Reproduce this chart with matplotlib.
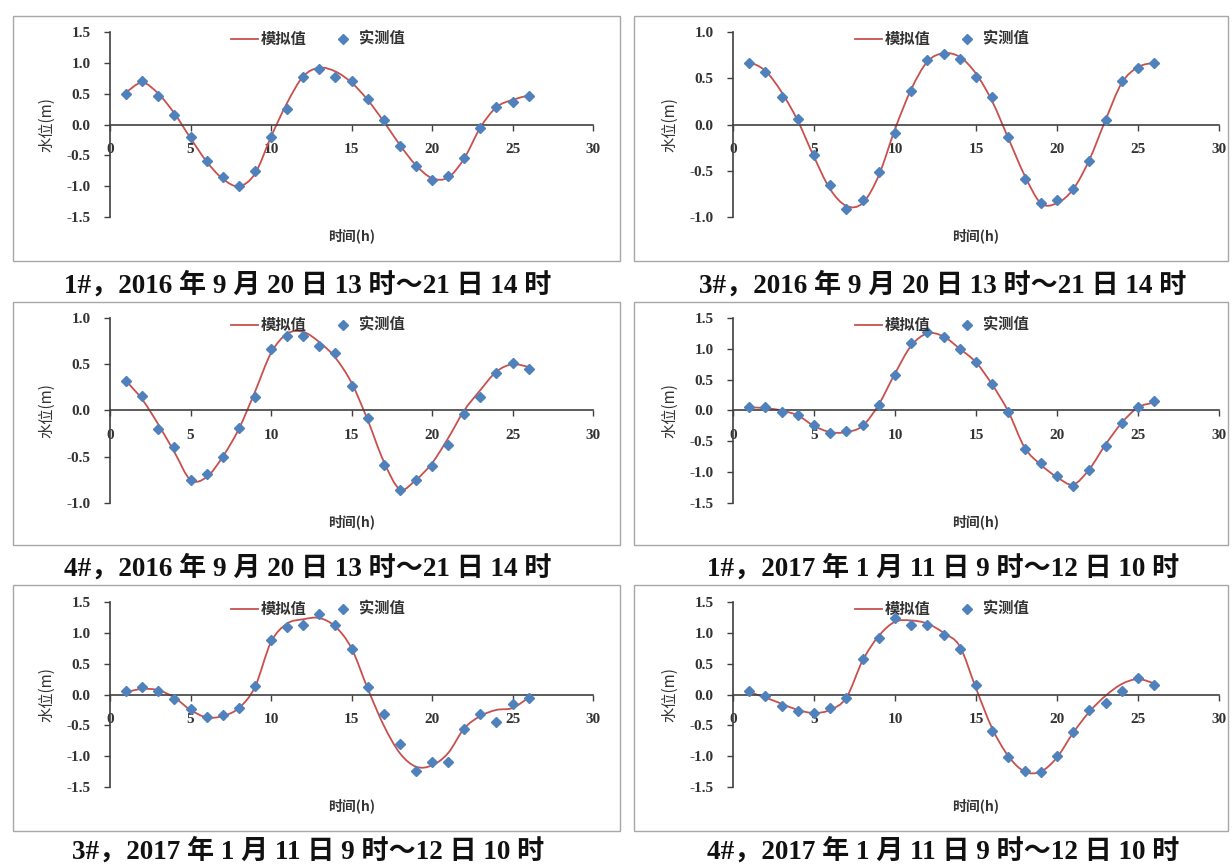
import matplotlib
matplotlib.use('Agg')
import matplotlib.pyplot as plt
from matplotlib.patches import Rectangle, PathPatch
from matplotlib.path import Path
from matplotlib.lines import Line2D

# ---------------- data ----------------
hours = list(range(1, 27))

p1_sim = [0.52, 0.68, 0.50, 0.18, -0.22, -0.60, -0.88, -1.00, -0.80, -0.20, 0.35, 0.78, 0.92,
          0.86, 0.68, 0.40, 0.05, -0.33, -0.66, -0.87, -0.86, -0.55, -0.05, 0.28, 0.40, 0.47]
p1_obs = [0.50, 0.71, 0.46, 0.16, -0.20, -0.60, -0.85, -1.00, -0.75, -0.20, 0.25, 0.77, 0.90,
          0.77, 0.71, 0.41, 0.07, -0.35, -0.68, -0.90, -0.83, -0.54, -0.05, 0.29, 0.36, 0.46]

p2_sim = [0.68, 0.58, 0.35, 0.04, -0.35, -0.70, -0.88, -0.85, -0.55, -0.05, 0.38, 0.68, 0.77,
          0.73, 0.55, 0.25, -0.15, -0.55, -0.85, -0.85, -0.70, -0.38, 0.05, 0.45, 0.62, 0.67]
p2_obs = [0.66, 0.57, 0.30, 0.06, -0.33, -0.65, -0.91, -0.82, -0.51, -0.09, 0.36, 0.70, 0.76,
          0.71, 0.51, 0.30, -0.14, -0.59, -0.85, -0.82, -0.70, -0.40, 0.05, 0.47, 0.61, 0.66]

p3_sim = [0.32, 0.12, -0.15, -0.45, -0.75, -0.72, -0.50, -0.20, 0.20, 0.62, 0.83, 0.85, 0.74,
          0.57, 0.30, -0.10, -0.55, -0.85, -0.75, -0.57, -0.30, 0.00, 0.22, 0.42, 0.50, 0.47]
p3_obs = [0.32, 0.16, -0.20, -0.39, -0.75, -0.69, -0.50, -0.19, 0.15, 0.66, 0.81, 0.81, 0.70,
          0.62, 0.26, -0.08, -0.59, -0.86, -0.75, -0.60, -0.37, -0.04, 0.15, 0.41, 0.51, 0.45]

p4_sim = [0.05, 0.04, 0.00, -0.08, -0.25, -0.35, -0.35, -0.25, 0.10, 0.60, 1.05, 1.25, 1.20,
          1.00, 0.78, 0.42, -0.02, -0.60, -0.88, -1.08, -1.20, -0.95, -0.55, -0.20, 0.05, 0.13]
p4_obs = [0.05, 0.05, -0.02, -0.07, -0.23, -0.36, -0.34, -0.23, 0.09, 0.58, 1.09, 1.27, 1.19,
          0.99, 0.79, 0.43, -0.02, -0.63, -0.85, -1.06, -1.23, -0.97, -0.58, -0.21, 0.05, 0.16]

p5_sim = [0.04, 0.09, 0.07, -0.05, -0.25, -0.37, -0.35, -0.22, 0.12, 0.85, 1.15, 1.22, 1.24,
          1.10, 0.75, 0.10, -0.50, -0.95, -1.17, -1.15, -0.95, -0.55, -0.35, -0.25, -0.22, -0.05]
p5_obs = [0.05, 0.12, 0.05, -0.07, -0.23, -0.37, -0.33, -0.22, 0.13, 0.88, 1.10, 1.12, 1.30,
          1.12, 0.74, 0.12, -0.31, -0.80, -1.24, -1.10, -1.10, -0.56, -0.32, -0.45, -0.15, -0.05]

p6_sim = [0.04, -0.05, -0.15, -0.25, -0.30, -0.25, -0.05, 0.55, 0.95, 1.18, 1.20, 1.15, 1.00,
          0.78, 0.10, -0.55, -1.00, -1.25, -1.25, -1.02, -0.62, -0.28, -0.02, 0.17, 0.25, 0.18]
p6_obs = [0.06, -0.03, -0.18, -0.26, -0.30, -0.22, -0.05, 0.57, 0.92, 1.24, 1.12, 1.12, 0.96,
          0.74, 0.15, -0.59, -1.02, -1.24, -1.26, -1.00, -0.60, -0.25, -0.14, 0.05, 0.27, 0.16]

y_limits = [1.5, 1.0, 1.0, 1.5, 1.5, 1.5]
x_ticks = [0, 5, 10, 15, 20, 25, 30]

captions = [
    "1#，2016 年 9 月 20 日 13 时～21 日 14 时",
    "3#，2016 年 9 月 20 日 13 时～21 日 14 时",
    "4#，2016 年 9 月 20 日 13 时～21 日 14 时",
    "1#，2017 年 1 月 11 日 9 时～12 日 10 时",
    "3#，2017 年 1 月 11 日 9 时～12 日 10 时",
    "4#，2017 年 1 月 11 日 9 时～12 日 10 时",
]
legend_labels = ["模拟值", "实测值"]
x_label = "时间(h)"
y_label = "水位(m)"

sims = [p1_sim, p2_sim, p3_sim, p4_sim, p5_sim, p6_sim]
obss = [p1_obs, p2_obs, p3_obs, p4_obs, p5_obs, p6_obs]


def smooth_path(xs, ys):
    """Excel-style smoothed line drawn as cubic Bezier segments through the data points."""
    n = len(xs)
    verts = [(xs[0], ys[0])]
    codes = [Path.MOVETO]
    for k in range(n - 1):
        x0, y0 = (xs[k - 1], ys[k - 1]) if k > 0 else (xs[k], ys[k])
        x1, y1 = xs[k], ys[k]
        x2, y2 = xs[k + 1], ys[k + 1]
        x3, y3 = (xs[k + 2], ys[k + 2]) if k + 2 < n else (x2, y2)
        c1 = (x1 + (x2 - x0) / 6.0, y1 + (y2 - y0) / 6.0)
        c2 = (x2 - (x3 - x1) / 6.0, y2 - (y3 - y1) / 6.0)
        verts += [c1, c2, (x2, y2)]
        codes += [Path.CURVE4, Path.CURVE4, Path.CURVE4]
    return Path(verts, codes)


# ---------------- layout (pixels) ----------------
W, H = 1232, 865
fig = plt.figure(figsize=(W / 100, H / 100), dpi=100)
fig.patch.set_facecolor('white')

cols = [(13, 620, 110, 593, 308), (634, 1228, 733, 1219, 943)]
rows = [(16, 261, 32, 217, 285), (302, 545, 318, 503, 568), (585, 831, 602, 787, 851)]

RED = '#C8504D'
BLUE = '#4F81BD'
TXT = '#333333'
num_family = ['Liberation Serif', 'Noto Sans CJK SC']
cjk_font = ['Noto Sans CJK SC', 'DejaVu Sans']

for i in range(6):
    r, c = divmod(i, 2)
    bx0, bx1, ax0, ax1, capx = cols[c]
    by0, by1, ay0, ay1, capy = rows[r]

    fig.patches.append(Rectangle((bx0 / W, 1 - by1 / H), (bx1 - bx0) / W, (by1 - by0) / H,
                                 transform=fig.transFigure, fill=False,
                                 edgecolor='#a8a8a8', linewidth=1.0, zorder=0))

    ax = fig.add_axes([ax0 / W, 1 - ay1 / H, (ax1 - ax0) / W, (ay1 - ay0) / H])
    ax.patch.set_alpha(0)
    lim = y_limits[i]
    ax.add_patch(PathPatch(smooth_path(hours, sims[i]), facecolor='none',
                           edgecolor=RED, lw=1.3, zorder=2))
    ax.plot(hours, obss[i], linestyle='none', marker='D', markersize=4.6,
            color=BLUE, zorder=3)
    ax.set_xlim(0, 30)
    ax.set_ylim(-lim, lim)
    ax.set_xticks(x_ticks)
    yt = []
    v = -lim
    while v <= lim + 1e-9:
        yt.append(round(v, 1))
        v += 0.5
    ax.set_yticks(yt)
    ax.set_yticklabels([f"{t:.1f}" for t in yt])
    ax.set_xticklabels([str(t) for t in x_ticks])

    for s in ['top', 'right']:
        ax.spines[s].set_visible(False)
    ax.spines['bottom'].set_position(('data', 0))
    for s in ['bottom', 'left']:
        ax.spines[s].set_color('#404040')
        ax.spines[s].set_linewidth(1.2)
    ax.tick_params(axis='both', direction='out', length=4, width=1.0, color='#404040',
                   labelcolor=TXT)
    ax.tick_params(axis='x', pad=9)
    ax.tick_params(axis='y', pad=10)
    for lab in ax.get_xticklabels() + ax.get_yticklabels():
        lab.set_family(num_family)
        lab.set_weight('bold')
        lab.set_fontsize(11)

    ax.set_ylabel(y_label, family=cjk_font, fontsize=11, color=TXT, labelpad=8)
    ax.text(0.5, -0.1, x_label, transform=ax.transAxes, ha='center', va='center',
            family=cjk_font, fontsize=10, weight='bold', color=TXT)

    handles = [Line2D([], [], color=RED, lw=1.3),
               Line2D([], [], linestyle='none', marker='D', markersize=4.6, color=BLUE)]
    ax.legend(handles, legend_labels, loc='upper center', bbox_to_anchor=(0.43, 1.08),
              ncol=2, frameon=False, handlelength=1.8, handletextpad=0.15,
              columnspacing=1.5, prop=dict(family=cjk_font, size=11, weight='bold'),
              labelcolor=TXT)

    fig.text(capx / W, 1 - capy / H, captions[i], ha='center', va='center',
             fontsize=19.5, color='#111111', family=num_family, weight='bold')

fig.savefig('out.png', dpi=100, facecolor='white')
